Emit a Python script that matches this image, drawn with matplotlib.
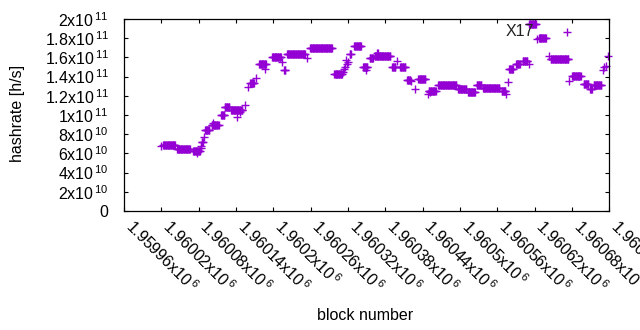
import matplotlib
matplotlib.use('Agg')
import matplotlib.pyplot as plt
import numpy as np

plt.rcParams['font.family'] = ['Liberation Sans', 'DejaVu Sans']
plt.rcParams['mathtext.fontset'] = 'custom'
plt.rcParams['mathtext.rm'] = 'Liberation Sans'
plt.rcParams['mathtext.default'] = 'regular'

# ---- data: runs of consecutive blocks sharing the same hashrate estimate ----
run_first = [1960020, 1960023, 1960045, 1960071, 1960077, 1960083, 1960084, 1960085,
             1960089, 1960090, 1960101, 1960103, 1960116, 1960122, 1960132, 1960142,
             1960146, 1960154, 1960159, 1960163, 1960172, 1960177, 1960187, 1960198,
             1960214, 1960217, 1960222, 1960254, 1960259, 1960298, 1960312, 1960314,
             1960315, 1960317, 1960318, 1960320, 1960323, 1960330, 1960344, 1960349,
             1960355, 1960363, 1960367, 1960391, 1960399, 1960404, 1960415, 1960421,
             1960428, 1960433, 1960449, 1960450, 1960452, 1960465, 1960497, 1960513,
             1960527, 1960537, 1960567, 1960574, 1960577, 1960579, 1960590, 1960601,
             1960611, 1960611, 1960624, 1960627, 1960643, 1960646, 1960672, 1960675,
             1960680, 1960699, 1960709, 1960715, 1960730, 1960731, 1960735, 1960738]
run_last = [1960020, 1960042, 1960066, 1960082, 1960077, 1960083, 1960084, 1960087,
            1960089, 1960097, 1960112, 1960103, 1960121, 1960129, 1960150, 1960142,
            1960146, 1960154, 1960159, 1960169, 1960172, 1960188, 1960187, 1960212,
            1960214, 1960219, 1960251, 1960254, 1960294, 1960310, 1960312, 1960314,
            1960315, 1960317, 1960318, 1960320, 1960325, 1960341, 1960351, 1960349,
            1960360, 1960388, 1960368, 1960396, 1960399, 1960412, 1960420, 1960421,
            1960428, 1960444, 1960449, 1960461, 1960452, 1960494, 1960510, 1960524,
            1960534, 1960563, 1960573, 1960574, 1960577, 1960585, 1960596, 1960608,
            1960611, 1960622, 1960624, 1960638, 1960643, 1960674, 1960672, 1960675,
            1960694, 1960706, 1960712, 1960727, 1960730, 1960731, 1960735, 1960738]
run_hashrate = [6.8e10, 6.9e10, 6.5e10, 6.3e10, 6.0e10, 6.6e10, 6.8e10, 7.2e10,
                7.7e10, 8.4e10, 9.0e10, 9.2e10, 1.00e11, 1.085e11, 1.05e11, 9.8e10,
                1.03e11, 1.10e11, 1.29e11, 1.33e11, 1.39e11, 1.53e11, 1.48e11, 1.60e11,
                1.55e11, 1.47e11, 1.64e11, 1.59e11, 1.695e11, 1.425e11, 1.45e11, 1.48e11,
                1.50e11, 1.57e11, 1.53e11, 1.55e11, 1.64e11, 1.72e11, 1.50e11, 1.47e11,
                1.59e11, 1.61e11, 1.65e11, 1.50e11, 1.56e11, 1.50e11, 1.365e11, 1.35e11,
                1.27e11, 1.38e11, 1.215e11, 1.25e11, 1.24e11, 1.31e11, 1.27e11, 1.24e11,
                1.31e11, 1.28e11, 1.25e11, 1.22e11, 1.34e11, 1.48e11, 1.53e11, 1.56e11,
                1.53e11, 1.95e11, 1.79e11, 1.80e11, 1.61e11, 1.58e11, 1.86e11, 1.35e11,
                1.41e11, 1.32e11, 1.27e11, 1.31e11, 1.47e11, 1.50e11, 1.51e11, 1.61e11]

x_ticks = [1959960, 1960020, 1960080, 1960140, 1960200, 1960260, 1960320,
           1960380, 1960440, 1960500, 1960560, 1960620, 1960680, 1960740]
y_ticks = [0, 2e10, 4e10, 6e10, 8e10, 1e11, 1.2e11, 1.4e11, 1.6e11, 1.8e11, 2e11]

annotation_text = "X17"
annotation_block = 1960619
annotation_value = 1.865e11

# expand runs into per-block points
blocks = np.concatenate([np.arange(a, b + 1) for a, b in zip(run_first, run_last)])
hashrate = np.concatenate([np.full(b - a + 1, v) for a, b, v in zip(run_first, run_last, run_hashrate)])


def sci(v):
    if v == 0:
        return '0'
    e = int(np.floor(np.log10(abs(v)) + 1e-9))
    m = v / 10 ** e
    return '%sx10$^{\\,%d}$' % (('%.6g' % m), e)


FS = 11.5
fig = plt.figure(figsize=(6.4, 3.3), dpi=100)
ax = fig.add_axes([124 / 640, 1 - 211 / 330, (609.3 - 124) / 640, 192 / 330])

ax.plot(blocks, hashrate, linestyle='none', marker='+', color='#9400d3',
        markersize=5.6, markeredgewidth=1.0, clip_on=False)

ax.set_xlim(x_ticks[0], x_ticks[-1])
ax.set_ylim(y_ticks[0], y_ticks[-1])

ax.set_yticks(y_ticks, labels=[sci(v) for v in y_ticks], fontsize=FS)
ax.set_xticks(x_ticks, labels=[sci(v) for v in x_ticks], fontsize=FS,
              rotation=-45, ha='left', va='baseline', rotation_mode='anchor')

ax.tick_params(direction='in', length=3, width=0.8, top=True, right=True,
               color='black', labelcolor='black')
ax.tick_params(axis='x', pad=12)
ax.tick_params(axis='y', pad=11)
for s in ax.spines.values():
    s.set_linewidth(0.9)
    s.set_color('black')

ax.text(annotation_block, annotation_value, annotation_text, ha='right', va='center',
        fontsize=FS, color='#222222')

fig.text(18 / 640, 1 - 113 / 330, 'hashrate [h/s]', rotation=90, ha='center',
         va='center', fontsize=FS)
fig.text(365 / 640, 1 - 315 / 330, 'block number', ha='center', va='center', fontsize=FS)

fig.savefig('out.png', dpi=100)
